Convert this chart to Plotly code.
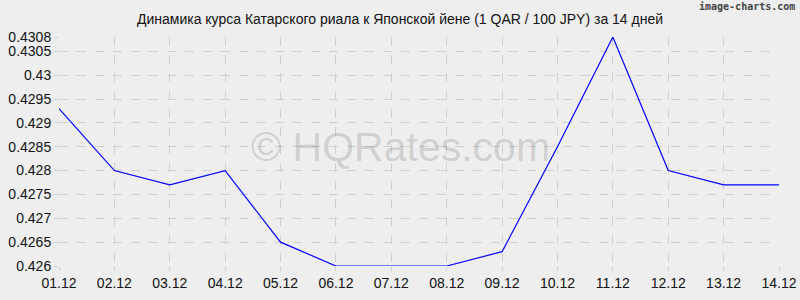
import plotly.graph_objects as go

dates = ["01.12", "02.12", "03.12", "04.12", "05.12", "06.12", "07.12",
         "08.12", "09.12", "10.12", "11.12", "12.12", "13.12", "14.12"]
rates = [0.4293, 0.4280, 0.4277, 0.4280, 0.4265, 0.4260, 0.4260,
         0.4260, 0.4263, 0.4285, 0.4308, 0.4280, 0.4277, 0.4277]
y_ticks = [0.426, 0.4265, 0.427, 0.4275, 0.428, 0.4285, 0.429, 0.4295, 0.43, 0.4305, 0.4308]
y_labels = ["0.426", "0.4265", "0.427", "0.4275", "0.428", "0.4285", "0.429",
            "0.4295", "0.43", "0.4305", "0.4308"]

title = "Динамика курса Катарского риала к Японской йене (1 QAR / 100 JPY) за 14 дней"

fig = go.Figure()
fig.add_trace(go.Scatter(x=dates, y=rates, mode="lines",
                         line=dict(color="#0000ff", width=1.2)))

bg = "#eeeeee"
fig.update_layout(
    width=800, height=300,
    margin=dict(l=59, r=21, t=37, b=34, autoexpand=False),
    paper_bgcolor=bg, plot_bgcolor=bg,
    showlegend=False,
    font=dict(family="Liberation Sans, Arial, sans-serif", size=14, color="#111111"),
    title=dict(text=title, x=0.5, xanchor="center", y=0.935, yanchor="middle",
               font=dict(size=14, color="#111111")),
    xaxis=dict(type="category", range=[0, len(dates) - 1], automargin=False,
               showgrid=True, gridcolor="#cfcfcf", griddash="dash", gridwidth=1,
               zeroline=False, showline=False,
               ticks="outside", ticklen=4, tickcolor="#cfcfcf",
               tickfont=dict(size=14, color="#111111")),
    yaxis=dict(range=[y_ticks[0], y_ticks[-1]], tickmode="array", automargin=False,
               tickvals=y_ticks, ticktext=y_labels,
               showgrid=True, gridcolor="#cfcfcf", griddash="dash", gridwidth=1,
               zeroline=False, showline=False,
               ticks="outside", ticklen=4, tickcolor="#cfcfcf",
               tickfont=dict(size=14, color="#111111")),
)
fig.add_annotation(text="© HQRates.com", x=(400 - 59) / 720, y=0.52,
                   xref="paper", yref="paper", xanchor="center", yanchor="middle",
                   showarrow=False,
                   font=dict(size=41, color="rgba(0,0,0,0.15)",
                             family="Liberation Sans, Arial, sans-serif"))
fig.add_annotation(text="<b>image-charts.com</b>", xref="paper", yref="paper",
                   x=1.0 + 18 / 720, y=1.0 + 31 / 229, xanchor="right", yanchor="middle",
                   showarrow=False,
                   font=dict(size=10, color="#444444", family="DejaVu Sans Mono, monospace"))

fig.write_html("out.html")
